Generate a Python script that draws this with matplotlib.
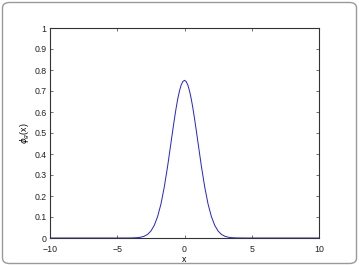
import matplotlib
matplotlib.use('Agg')
import matplotlib.pyplot as plt
from matplotlib.patches import FancyBboxPatch

# ── Datos ──────────────────────────────────────────────
x_vals = [-10, -6, -5, -4.5, -4, -3.75, -3.5, -3.25, -3, -2.75, -2.5, -2.25, -2,
          -1.75, -1.5, -1.25, -1, -0.875, -0.75, -0.625, -0.5, -0.375, -0.25, -0.125, 0,
          0.125, 0.25, 0.375, 0.5, 0.625, 0.75, 0.875, 1, 1.25, 1.5, 1.75, 2, 2.25, 2.5, 2.75, 3,
          3.25, 3.5, 3.75, 4, 4.5, 5, 6, 10]
y_vals = [0, 0, 0, 0.00003, 0.0003, 0.0007, 0.0016, 0.0038, 0.0083, 0.017, 0.033, 0.060, 0.102,
          0.162, 0.244, 0.344, 0.456, 0.512, 0.567, 0.618, 0.663, 0.700, 0.728, 0.745, 0.751,
          0.745, 0.728, 0.700, 0.663, 0.618, 0.567, 0.512, 0.456, 0.344, 0.244, 0.162, 0.102,
          0.060, 0.033, 0.017, 0.0083,
          0.0038, 0.0016, 0.0007, 0.0003, 0.00003, 0, 0, 0]
x_ticks = [-10, -5, 0, 5, 10]
x_tick_labels = ['\u221210', '\u22125', '0', '5', '10']
y_ticks = [0, 0.1, 0.2, 0.3, 0.4, 0.5, 0.6, 0.7, 0.8, 0.9, 1]
y_tick_labels = ['0', '0.1', '0.2', '0.3', '0.4', '0.5', '0.6', '0.7', '0.8', '0.9', '1']

plt.rcParams['font.family'] = ['Liberation Sans', 'DejaVu Sans']

fig = plt.figure(figsize=(3.59, 2.66), dpi=100)
W, H = 359, 266

# borde redondeado
border = FancyBboxPatch((2.5 / W, 2.5 / H), 354 / W, 261 / H,
                        boxstyle='round,pad=0,rounding_size=0.02',
                        transform=fig.transFigure, fill=False,
                        edgecolor='#9a9a9a', lw=1.0)
fig.patches.append(border)

ax = fig.add_axes([50 / W, (H - 238) / H, 269 / W, 210 / H])
ax.plot(x_vals, y_vals, color='#2020e0', lw=0.7)

ax.set_xlim(-10, 10)
ax.set_ylim(0, 1)
ax.set_xticks(x_ticks)
ax.set_xticklabels(x_tick_labels)
ax.set_yticks(y_ticks)
ax.set_yticklabels(y_tick_labels)
ax.tick_params(direction='in', length=2.5, width=0.5, labelsize=6.3,
               top=True, right=True, pad=2.5, colors='#333333', labelcolor='#222222')
ax.tick_params(axis='x', pad=5)
for sp in ax.spines.values():
    sp.set_linewidth(0.8)
    sp.set_color('#333333')

ax.set_xlabel('x', fontsize=6.3, labelpad=1)
ax.set_ylabel(r'$\phi_g$(x)', fontsize=6.3, labelpad=2)

fig.savefig('out.png', dpi=100)
